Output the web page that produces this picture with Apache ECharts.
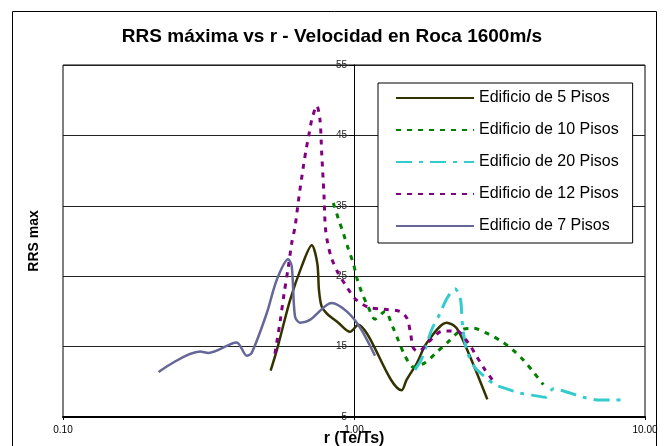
<!DOCTYPE html>
<html>
<head>
<meta charset="utf-8">
<script src="https://cdn.jsdelivr.net/npm/echarts@6/dist/echarts.min.js"></script>
<style>
  html, body { margin: 0; padding: 0; background: #fff; }
  #chart { width: 664px; height: 446px; }
</style>
</head>
<body>
<div id="chart"></div>
<script>
  // r (Te/Ts) and RRS max
  const r5 = [0.517, 0.543, 0.603, 0.661, 0.716, 0.748, 0.758, 0.774, 0.806, 0.883, 0.969, 1.035, 1.106, 1.459, 1.517, 1.642, 1.778, 2.083, 2.254, 2.504, 2.872];
  const rrs5 = [11.6, 14.5, 21.6, 26.4, 29.4, 26.8, 23.0, 20.7, 19.7, 18.4, 17.1, 18.1, 16.9, 8.8, 10.3, 12.6, 15.5, 18.4, 17.6, 13.6, 7.5];

  const r10 = [0.849, 0.883, 0.919, 0.956, 0.995, 1.024, 1.063, 1.120, 1.181, 1.278, 1.358, 1.420, 1.497, 1.599, 1.754, 1.924, 2.110, 2.345, 2.570, 2.894, 3.226, 3.519, 3.818, 4.132, 4.473];
  const rrs10 = [35.4, 33.2, 31.1, 28.9, 26.8, 24.7, 22.7, 20.6, 18.9, 20.0, 17.8, 15.9, 13.7, 12.1, 12.7, 14.2, 15.7, 17.4, 17.6, 16.8, 15.7, 14.5, 13.1, 11.4, 9.6];

  const r20 = [1.620, 1.713, 1.849, 1.975, 2.083, 2.224, 2.301, 2.332, 2.363, 2.440, 2.605, 2.858, 3.052, 3.347, 3.720, 4.245, 4.552, 4.841, 5.525, 6.138, 7.003, 7.782, 8.654];
  const rrs20 = [11.7, 13.4, 17.4, 19.7, 21.8, 23.2, 22.3, 21.2, 17.8, 14.5, 12.0, 10.5, 9.6, 9.0, 8.4, 8.0, 7.8, 9.0, 8.4, 7.8, 7.4, 7.4, 7.5];

  const r12 = [0.535, 0.557, 0.575, 0.594, 0.611, 0.627, 0.647, 0.670, 0.684, 0.700, 0.716, 0.745, 0.764, 0.774, 0.789, 0.797, 0.812, 0.838, 0.883, 0.944, 1.008, 1.120, 1.278, 1.439, 1.521, 1.564, 1.599, 1.663, 1.810, 2.014, 2.254, 2.471, 2.640, 2.820, 3.011];
  const rrs12 = [14.0, 18.5, 22.5, 26.2, 29.7, 32.0, 36.3, 40.6, 42.9, 45.1, 47.2, 49.2, 47.2, 42.7, 36.3, 32.0, 29.7, 27.5, 25.4, 23.5, 21.8, 20.6, 20.3, 20.0, 19.0, 16.9, 14.8, 14.3, 15.7, 17.2, 17.2, 15.5, 13.6, 11.7, 10.1];

  const r7 = [0.213, 0.296, 0.316, 0.395, 0.428, 0.445, 0.501, 0.543, 0.594, 0.611, 0.627, 0.652, 0.706, 0.838, 0.944, 1.049, 1.181];
  const rrs7 = [11.4, 14.3, 14.1, 15.6, 13.7, 14.1, 19.7, 24.5, 27.4, 26.4, 19.3, 18.4, 18.8, 21.2, 20.0, 17.7, 13.7];

  const seriesNames = ['Edificio de 5 Pisos', 'Edificio de 10 Pisos', 'Edificio de 20 Pisos', 'Edificio de 12 Pisos', 'Edificio de 7 Pisos'];

  const font = 'Liberation Sans, Arial, sans-serif';
  const pairs = (xs, ys) => xs.map((x, i) => [x, ys[i]]);

  const line = (name, xs, ys, color, type, width) => ({
    name: name,
    type: 'line',
    symbol: 'none',
    smooth: 0.3,
    color: color,
    lineStyle: { color: color, width: width, type: type, cap: 'butt' },
    data: pairs(xs, ys),
  });

  const chart = echarts.init(document.getElementById('chart'));

  chart.setOption({
    animation: false,
    backgroundColor: '#fff',
    title: {
      text: 'RRS máxima vs r - Velocidad en Roca 1600m/s',
      left: 'center',
      top: 22,
      textStyle: { fontFamily: font, fontSize: 19, fontWeight: 'bold', color: '#000' },
    },
    graphic: [
      {
        type: 'rect',
        shape: { x: 12.5, y: 11.5, width: 644, height: 445 },
        style: { fill: 'none', stroke: '#000', lineWidth: 1 },
        silent: true,
      },
    ],
    grid: {
      left: 63,
      right: 19,
      top: 65,
      bottom: 29,
      show: true,
      borderColor: '#000',
      borderWidth: 1,
      outerBoundsMode: 'none',
    },
    legend: {
      data: seriesNames,
      orient: 'vertical',
      left: 378,
      top: 83,
      padding: [7, 14, 9, 17],
      itemWidth: 78,
      itemHeight: 14,
      itemGap: 16,
      borderColor: '#000',
      borderWidth: 1,
      backgroundColor: '#fff',
      itemStyle: { opacity: 0 },
      textStyle: { fontFamily: font, fontSize: 16, color: '#000' },
    },
    xAxis: {
      type: 'log',
      logBase: 10,
      min: 0.1,
      max: 10,
      name: 'r (Te/Ts)',
      nameLocation: 'middle',
      nameGap: 14,
      nameMoveOverlap: false,
      nameTextStyle: { fontFamily: font, fontSize: 16, fontWeight: 'bold', color: '#000' },
      axisLine: { lineStyle: { color: '#000', width: 2 } },
      axisTick: { show: true, length: 3, lineStyle: { color: '#000' } },
      minorTick: { show: false },
      splitLine: { show: false },
      axisLabel: {
        margin: 8,
        fontFamily: font,
        fontSize: 10,
        color: '#000',
        formatter: (v) => Number(v).toFixed(2),
      },
    },
    yAxis: {
      type: 'value',
      min: 5,
      max: 55,
      interval: 10,
      position: 'left',
      offset: -291,
      name: 'RRS max',
      nameLocation: 'middle',
      nameGap: 313,
      nameTextStyle: { fontFamily: font, fontSize: 14, fontWeight: 'bold', color: '#000' },
      axisLine: { show: true, lineStyle: { color: '#000', width: 1 } },
      axisTick: { show: true, length: 5, lineStyle: { color: '#000' } },
      axisLabel: { margin: 7, fontFamily: font, fontSize: 10, color: '#222' },
      splitLine: { show: true, lineStyle: { color: '#222', width: 1 } },
    },
    series: [
      line(seriesNames[0], r5, rrs5, '#333300', 'solid', 2.5),
      line(seriesNames[1], r10, rrs10, '#008000', [5, 6], 3),
      line(seriesNames[2], r20, rrs20, '#33CCCC', [16, 7, 4, 7], 3),
      line(seriesNames[3], r12, rrs12, '#800080', [5, 6], 3),
      line(seriesNames[4], r7, rrs7, '#666699', 'solid', 2.5),
    ],
  });
</script>
</body>
</html>
